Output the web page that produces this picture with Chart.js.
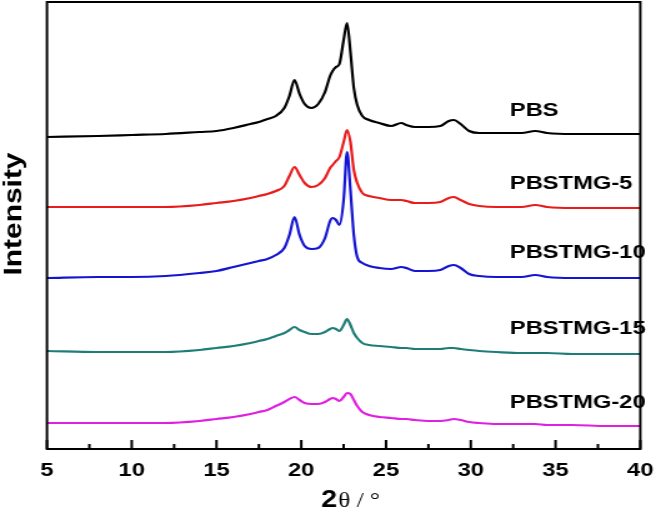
<!DOCTYPE html>
<html>
<head>
<meta charset="utf-8">
<script src="https://cdn.jsdelivr.net/npm/chart.js@4.4.0/dist/chart.umd.min.js"></script>
<style>
  html, body { margin: 0; padding: 0; background: #fff; }
  #xrd { display: block; width: 666px; height: 513px; }
</style>
</head>
<body>
<canvas id="xrd" width="533" height="513" style="width:666px;height:513px"></canvas>
<script>
// 2theta positions (deg) shared by every pattern
const twoTheta = [5, 8, 10, 12, 14, 15, 16, 17, 17.5, 18, 18.5, 19, 19.3, 19.6, 19.9, 20.2, 20.6, 21.0, 21.4, 21.7,
  21.85, 22.05, 22.25, 22.5, 22.7, 22.9, 23.1, 23.3, 23.6, 24.0, 24.6, 25.3, 25.9, 26.2, 26.7, 27.5, 28.2, 28.7, 29.0,
  29.4, 29.9, 30.5, 31.5, 33.0, 33.8, 34.5, 36, 38, 40];

// intensities (a.u., already stacked with offsets)
const pbs = [312, 313, 314, 315, 317, 318, 321, 325, 327, 330, 333, 341, 353, 369, 355, 345, 341, 345, 357, 373,
  378, 382, 385, 409, 426, 397, 361, 344, 333, 329, 326, 323, 326, 324, 322, 322, 323, 328, 329,
  325, 318, 316, 316, 316, 318, 316, 315, 315, 315];
const pbstmg5 = [242, 242, 242, 242, 244, 246, 248, 251, 253, 255, 258, 263, 273, 282, 274, 266, 262, 264, 271, 281,
  284, 288, 292, 307, 319, 307, 279, 266, 256, 253, 251, 249, 249, 248, 246, 246, 247, 251, 252,
  249, 245, 243, 242, 242, 244, 242, 241, 241, 241];
const pbstmg10 = [171, 172, 172, 173, 176, 178, 182, 186, 188, 190, 194, 201, 214, 232, 214, 203, 200, 201, 211, 228,
  231, 229, 224, 249, 297, 259, 214, 192, 186, 183, 181, 180, 182, 181, 178, 178, 179, 183, 184,
  181, 175, 173, 172, 172, 174, 172, 171, 171, 171];
const pbstmg15 = [98, 97, 97, 97, 99, 101, 103, 106, 108, 110, 113, 116, 119, 122, 119, 117, 115, 115, 117, 120,
  121, 120, 118, 124, 130, 124, 116, 111, 106, 104, 103, 102, 101, 101, 100, 100, 100, 101, 101,
  100, 99, 98, 97, 96, 96, 96, 95, 95, 95];
const pbstmg20 = [26, 26, 26, 26, 28, 30, 32, 35, 37, 39, 43, 47, 50, 52, 49, 46, 45, 45, 47, 50,
  51, 50, 48, 52, 56, 55, 49, 43, 37, 34, 32, 31, 30, 30, 29, 28, 28, 29, 30,
  29, 27, 26, 25, 25, 25, 24, 24, 23, 23];

const seriesNames = ['PBS', 'PBSTMG-5', 'PBSTMG-10', 'PBSTMG-15', 'PBSTMG-20'];
const seriesData = [pbs, pbstmg5, pbstmg10, pbstmg15, pbstmg20];
const seriesColors = ['#000000', '#e81c1c', '#1414d2', '#1f7d78', '#e020e0'];
const xTicks = [5, 10, 15, 20, 25, 30, 35, 40];

// where each name sits (2theta, intensity)
const nameAnchor = [[32.3, 338], [32.3, 265], [32.3, 196], [32.3, 120], [32.3, 46]];

const decorations = {
  id: 'decorations',
  afterDatasetsDraw(chart) {
    const ctx = chart.ctx;
    const a = chart.chartArea;
    const xs = chart.scales.x, ys = chart.scales.y;
    ctx.save();
    ctx.strokeStyle = '#000';
    // inward ticks on the bottom axis
    ctx.lineWidth = 2;
    for (let t = 5; t <= 40; t += 2.5) {
      const px = xs.getPixelForValue(t);
      const len = (t % 5 === 0) ? 9 : 5;
      ctx.beginPath();
      ctx.moveTo(px, a.bottom);
      ctx.lineTo(px, a.bottom - len);
      ctx.stroke();
    }
    // box
    ctx.lineWidth = 2;
    ctx.strokeRect(a.left, a.top, a.right - a.left, a.bottom - a.top);

    // curve names
    ctx.fillStyle = '#000';
    ctx.font = 'bold 19px "Liberation Sans", Arial, sans-serif';
    ctx.textBaseline = 'middle';
    ctx.textAlign = 'left';
    seriesNames.forEach((n, i) => {
      ctx.fillText(n, xs.getPixelForValue(nameAnchor[i][0]), ys.getPixelForValue(nameAnchor[i][1]));
    });

    // x title: bold "2" + serif "θ / °"
    const bold = 'bold 23px "Liberation Sans", Arial, sans-serif';
    const serif = '20px "Liberation Serif", "Times New Roman", serif';
    ctx.font = bold;
    const w1 = ctx.measureText('2').width;
    ctx.font = serif;
    const w2 = ctx.measureText('θ / °').width;
    const cx = (a.left + a.right) / 2 + 5;
    let x0 = cx - (w1 + w2) / 2;
    ctx.textBaseline = 'alphabetic';
    ctx.font = bold;
    ctx.fillText('2', x0, 507);
    ctx.font = serif;
    ctx.fillText('θ / °', x0 + w1 + 1, 507);

    // y title
    ctx.translate(11, 214);
    ctx.rotate(-Math.PI / 2);
    ctx.scale(1.3, 0.9);
    ctx.font = 'bold 23px "Liberation Sans", Arial, sans-serif';
    ctx.textAlign = 'center';
    ctx.textBaseline = 'middle';
    ctx.fillText('Intensity', 0, 0);
    ctx.restore();
  }
};

new Chart(document.getElementById('xrd'), {
  type: 'line',
  data: {
    datasets: seriesNames.map((n, i) => ({
      label: n,
      data: twoTheta.map((t, j) => ({ x: t, y: seriesData[i][j] })),
      borderColor: seriesColors[i],
      borderWidth: 2.2,
      pointRadius: 0,
      cubicInterpolationMode: 'monotone',
      fill: false
    }))
  },
  options: {
    responsive: false,
    animation: false,
    devicePixelRatio: 1,
    layout: { padding: { top: 2, right: 9.8, left: 0, bottom: 0 } },
    plugins: { legend: { display: false }, tooltip: { enabled: false } },
    scales: {
      x: {
        type: 'linear',
        min: 5,
        max: 40,
        afterBuildTicks: (s) => { s.ticks = xTicks.map(v => ({ value: v })); },
        afterFit: (s) => { s.height = 64; },
        grid: { display: false, drawTicks: false },
        border: { display: false },
        ticks: {
          padding: 10,
          color: '#000',
          font: { family: '"Liberation Sans", Arial, sans-serif', size: 19, weight: 'bold' }
        }
      },
      y: {
        min: 0,
        max: 447,
        afterFit: (s) => { s.width = 37.6; },
        grid: { display: false, drawTicks: false },
        border: { display: false },
        ticks: { display: false }
      }
    }
  },
  plugins: [decorations]
});
</script>
</body>
</html>
